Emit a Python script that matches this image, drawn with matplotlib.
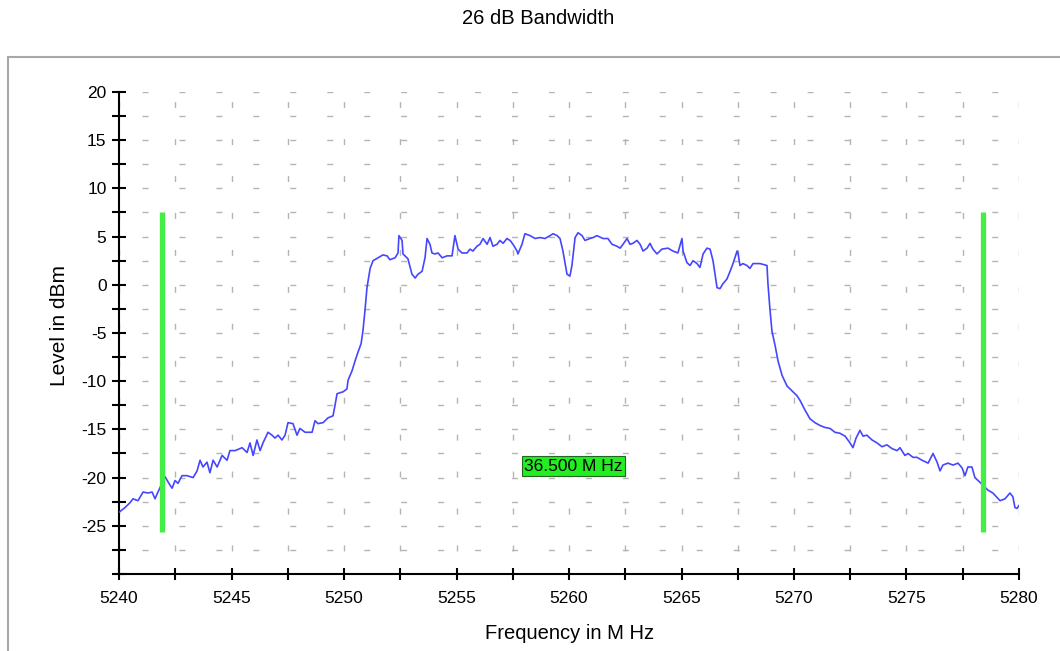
import matplotlib
matplotlib.use("Agg")
import matplotlib.pyplot as plt
from matplotlib.patches import Rectangle
from matplotlib.ticker import MultipleLocator, FixedLocator

plt.rcParams['font.family'] = ['Liberation Sans', 'DejaVu Sans']
plt.rcParams['axes.unicode_minus'] = False

# Spectrum trace (MHz, dBm)
freq = [5240.00, 5240.27, 5240.49, 5240.62, 5240.84, 5241.07, 5241.29, 5241.47, 5241.60, 5241.73,
        5241.91, 5242.04, 5242.27, 5242.36, 5242.49, 5242.62, 5242.80, 5243.02, 5243.29, 5243.47,
        5243.60, 5243.73, 5243.91, 5244.04, 5244.18, 5244.36, 5244.58, 5244.80, 5244.93, 5245.16,
        5245.47, 5245.69, 5245.82, 5245.96, 5246.13, 5246.27, 5246.40, 5246.62, 5246.80, 5246.93,
        5247.07, 5247.24, 5247.38, 5247.51, 5247.73, 5247.91, 5248.04, 5248.27, 5248.58, 5248.71,
        5248.84, 5249.07, 5249.29, 5249.51, 5249.60, 5249.69, 5249.96, 5250.13, 5250.18, 5250.36,
        5250.49, 5250.62, 5250.76, 5250.84, 5250.93, 5251.02, 5251.16, 5251.29, 5251.51, 5251.73,
        5251.91, 5252.04, 5252.27, 5252.40, 5252.44, 5252.58, 5252.62, 5252.84, 5253.02, 5253.16,
        5253.29, 5253.47, 5253.60, 5253.69, 5253.82, 5253.91, 5254.04, 5254.18, 5254.36, 5254.58,
        5254.80, 5254.93, 5255.07, 5255.24, 5255.47, 5255.60, 5255.73, 5255.91, 5256.04, 5256.18,
        5256.36, 5256.49, 5256.62, 5256.80, 5256.93, 5257.07, 5257.24, 5257.38, 5257.51, 5257.69,
        5257.73, 5257.91, 5258.04, 5258.27, 5258.49, 5258.71, 5258.93, 5259.16, 5259.29, 5259.47,
        5259.60, 5259.73, 5259.91, 5260.04, 5260.13, 5260.27, 5260.40, 5260.58, 5260.71, 5260.93,
        5261.07, 5261.24, 5261.51, 5261.73, 5261.91, 5262.13, 5262.27, 5262.40, 5262.58, 5262.71,
        5262.84, 5263.02, 5263.16, 5263.29, 5263.47, 5263.60, 5263.73, 5263.91, 5264.13, 5264.40,
        5264.62, 5264.84, 5265.02, 5265.07, 5265.24, 5265.38, 5265.51, 5265.69, 5265.82, 5265.96,
        5266.13, 5266.27, 5266.40, 5266.58, 5266.71, 5266.84, 5267.02, 5267.16, 5267.29, 5267.47,
        5267.51, 5267.60, 5267.73, 5267.91, 5268.04, 5268.18, 5268.49, 5268.80, 5268.84, 5268.93,
        5269.02, 5269.16, 5269.29, 5269.47, 5269.69, 5269.91, 5270.13, 5270.27, 5270.49, 5270.71,
        5270.93, 5271.16, 5271.38, 5271.60, 5271.82, 5272.04, 5272.27, 5272.49, 5272.62, 5272.76,
        5272.93, 5273.07, 5273.24, 5273.47, 5273.69, 5273.91, 5274.13, 5274.36, 5274.58, 5274.71,
        5274.93, 5275.07, 5275.29, 5275.47, 5275.69, 5275.96, 5276.18, 5276.36, 5276.49, 5276.62,
        5276.84, 5277.07, 5277.29, 5277.47, 5277.60, 5277.73, 5277.91, 5278.04, 5278.27, 5278.40,
        5278.62, 5278.84, 5279.16, 5279.38, 5279.60, 5279.73, 5279.82, 5279.91, 5280.00]
level = [-23.6, -23.1, -22.6, -22.2, -22.4, -21.5, -21.6, -21.5, -22.2, -21.5,
         -20.6, -19.9, -20.8, -21.1, -20.3, -20.6, -19.8, -19.8, -20.0, -19.3,
         -18.2, -18.9, -18.4, -19.5, -18.2, -18.9, -17.7, -18.2, -17.2, -17.2,
         -16.9, -17.4, -16.4, -17.7, -16.1, -17.2, -16.4, -15.3, -15.6, -15.9,
         -15.6, -16.1, -15.6, -14.3, -14.4, -15.6, -14.9, -15.3, -15.3, -14.1,
         -14.4, -14.3, -13.8, -13.6, -12.5, -11.3, -11.1, -10.8, -9.9, -8.9,
         -7.9, -7.0, -6.1, -4.8, -2.7, -0.3, 1.7, 2.5, 2.8, 3.1,
         3.0, 2.6, 2.8, 3.3, 5.1, 4.6, 3.2, 2.7, 1.1, 0.7,
         1.1, 1.4, 2.8, 4.8, 4.2, 3.3, 3.2, 3.3, 2.8, 3.0,
         3.0, 5.1, 3.7, 3.3, 3.3, 3.7, 3.5, 4.0, 4.2, 4.8,
         4.2, 4.9, 4.0, 4.2, 4.6, 4.3, 4.8, 4.6, 4.2, 3.5,
         3.2, 4.2, 5.3, 5.1, 4.8, 4.9, 4.8, 5.1, 5.3, 5.1,
         4.8, 3.5, 1.1, 0.9, 2.0, 4.9, 5.4, 5.1, 4.6, 4.8,
         4.9, 5.1, 4.8, 4.8, 4.2, 4.0, 3.8, 4.2, 4.8, 4.2,
         4.3, 4.6, 4.2, 3.5, 3.8, 4.3, 3.7, 3.2, 3.7, 3.8,
         3.5, 3.3, 4.8, 3.5, 2.3, 2.0, 2.5, 2.2, 1.8, 3.2,
         3.8, 3.7, 2.5, -0.3, -0.4, 0.1, 0.6, 1.4, 2.2, 3.5,
         3.3, 2.0, 2.2, 2.0, 1.7, 2.2, 2.2, 2.0, 0.2, -2.5,
         -4.8, -6.3, -7.9, -9.4, -10.5, -11.0, -11.5, -12.0, -13.0, -13.9,
         -14.3, -14.6, -14.8, -14.9, -15.3, -15.4, -15.7, -16.4, -16.9, -15.9,
         -15.1, -15.7, -15.6, -16.1, -16.4, -16.8, -16.6, -17.0, -17.2, -16.9,
         -17.7, -17.5, -17.9, -17.9, -18.2, -18.5, -17.5, -18.4, -19.3, -18.7,
         -18.5, -18.7, -18.5, -19.0, -19.8, -18.9, -18.9, -20.0, -20.5, -20.8,
         -21.3, -21.6, -22.4, -22.2, -21.6, -22.0, -23.1, -23.2, -22.9]

# bandwidth markers
marker_freqs = [5241.9, 5278.4]
marker_top = 7.5
marker_bottom = -25.6
bw_label = "36.500 M Hz"
bw_label_pos = (5260.2, -18.8)

y_major = [-25, -20, -15, -10, -5, 0, 5, 10, 15, 20]

fig = plt.figure(figsize=(10.6, 6.51), dpi=100)
ax = fig.add_axes([0.1123, 0.1183, 0.8490, 0.7404])

# outer grey frame
fig.patches.append(Rectangle((0.0075, -0.05), 1.1, 0.9624, transform=fig.transFigure,
                             fill=False, edgecolor='#a8a8a8', linewidth=1.5))

ax.plot(freq, level, color='#4646ff', linewidth=1.2, zorder=3)
for f in marker_freqs:
    ax.vlines(f, marker_bottom, marker_top, color='#44ee44', linewidth=3.8, zorder=4)
ax.text(bw_label_pos[0], bw_label_pos[1], bw_label, ha='center', va='center', fontsize=12.5,
        color='black', zorder=5,
        bbox=dict(boxstyle='square,pad=0.12', facecolor='#22ee22', edgecolor='#226622', linewidth=0.8))

ax.set_xlim(5240, 5280)
ax.set_ylim(-30, 20)
ax.xaxis.set_major_locator(MultipleLocator(5))
ax.xaxis.set_minor_locator(MultipleLocator(2.5))
ax.yaxis.set_major_locator(FixedLocator(y_major))
ax.yaxis.set_minor_locator(MultipleLocator(2.5))

ax.grid(which='both', color='#b4b4b4', linewidth=1.0, linestyle=(10, (4.3, 22.3)))
ax.set_axisbelow(True)

for s in ['top', 'right']:
    ax.spines[s].set_visible(False)
for s in ['left', 'bottom']:
    ax.spines[s].set_linewidth(1.5)

ax.tick_params(axis='y', which='both', direction='inout', length=10, width=1.5, pad=4, labelsize=12.5)
ax.tick_params(axis='x', which='both', direction='inout', length=9, width=1.5, pad=8, labelsize=12.5)

fig.text(0.5075, 0.972, "26 dB Bandwidth", ha='center', va='center', fontsize=14.5)
fig.text(0.0566, 0.5, "Level in dBm", ha='center', va='center', rotation=90, fontsize=15)
fig.text(0.5377, 0.0276, "Frequency in M Hz", ha='center', va='center', fontsize=14.5)

fig.savefig("out.png", dpi=100)
